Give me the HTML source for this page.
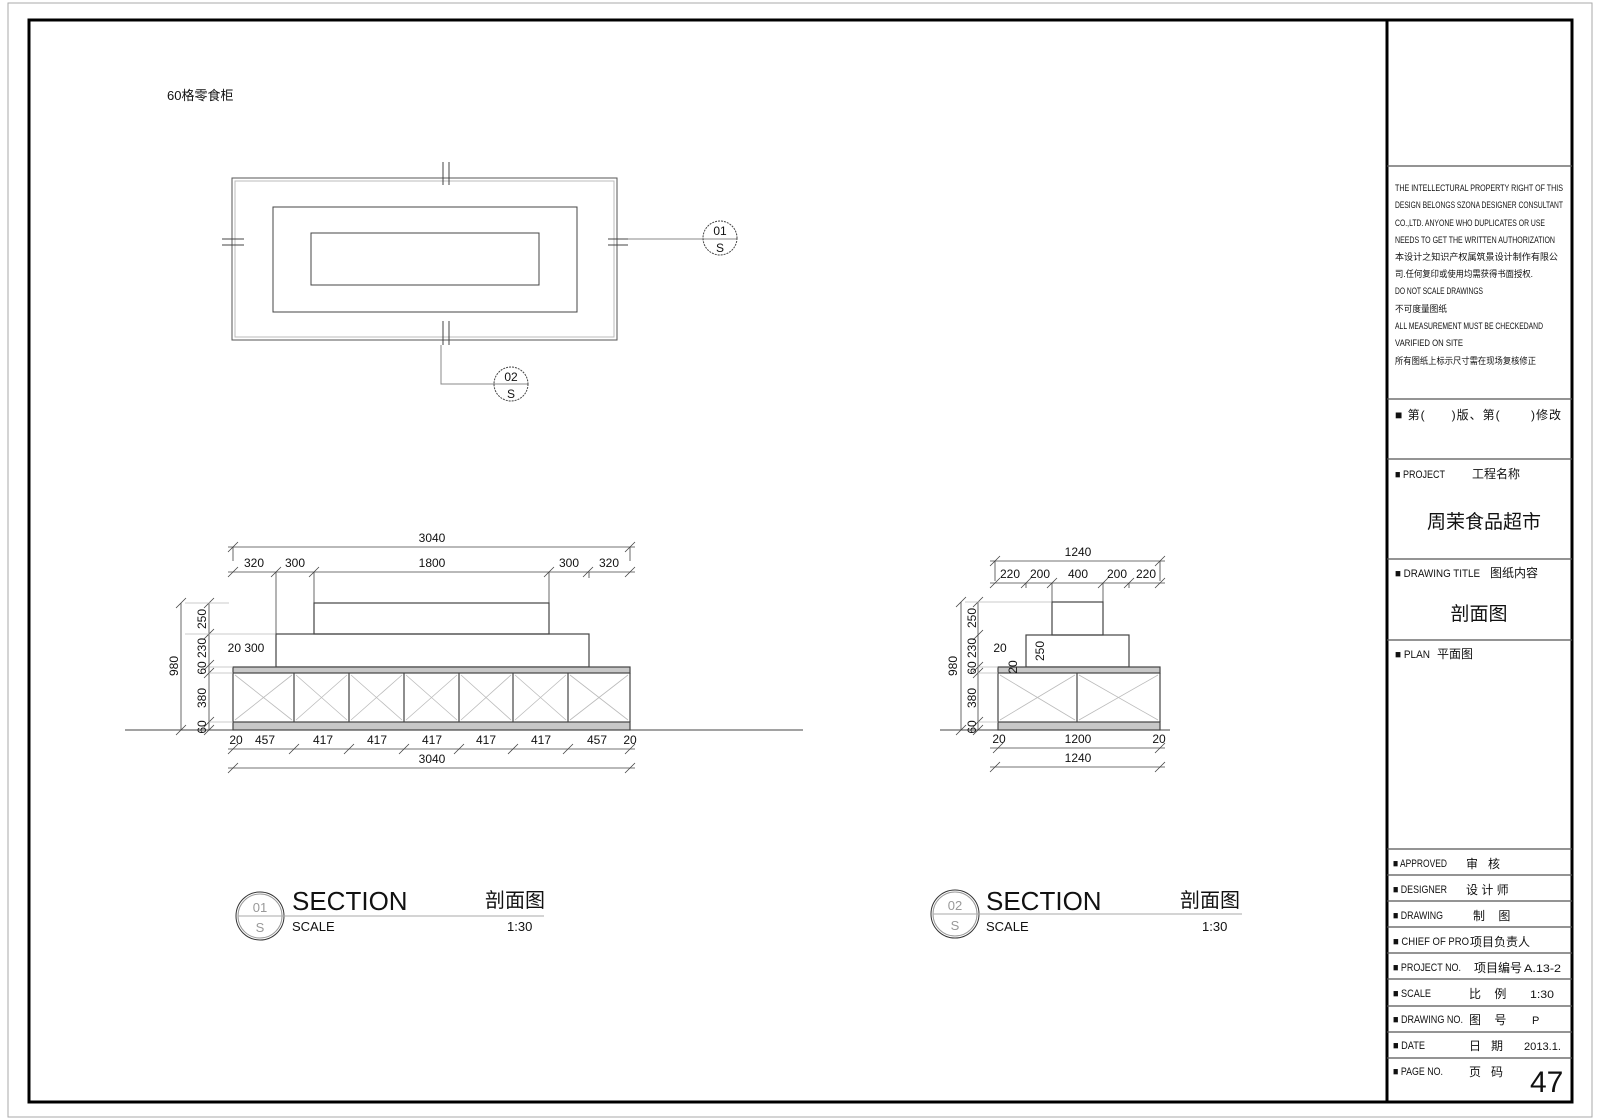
<!DOCTYPE html>
<html><head><meta charset="utf-8"><style>
html,body{margin:0;padding:0;background:#fff;}
svg{display:block;}
text{font-family:"Liberation Sans","Noto Sans CJK SC",sans-serif;fill:#111;}
.m{font-family:"Liberation Sans","Noto Sans CJK SC",sans-serif;}
.d{font-size:12px;}
</style></head><body>
<svg width="1600" height="1120" viewBox="0 0 1600 1120" xmlns="http://www.w3.org/2000/svg">
<rect x="8" y="3" width="1584" height="1114" fill="none" stroke="#aaa" stroke-width="1"/>
<rect x="29" y="20" width="1543" height="1082" fill="none" stroke="#000" stroke-width="3"/>
<line x1="1387" y1="20" x2="1387" y2="1102" stroke="#000" stroke-width="3"/>
<g stroke="#555" stroke-width="1.3">
<line x1="1387" y1="166" x2="1572" y2="166"/>
<line x1="1387" y1="399" x2="1572" y2="399"/>
<line x1="1387" y1="459" x2="1572" y2="459"/>
<line x1="1387" y1="559" x2="1572" y2="559"/>
<line x1="1387" y1="640" x2="1572" y2="640"/>
<line x1="1387" y1="849" x2="1572" y2="849"/>
<line x1="1387" y1="875" x2="1572" y2="875"/>
<line x1="1387" y1="901" x2="1572" y2="901"/>
<line x1="1387" y1="927" x2="1572" y2="927"/>
<line x1="1387" y1="953" x2="1572" y2="953"/>
<line x1="1387" y1="979" x2="1572" y2="979"/>
<line x1="1387" y1="1006" x2="1572" y2="1006"/>
<line x1="1387" y1="1032" x2="1572" y2="1032"/>
<line x1="1387" y1="1058" x2="1572" y2="1058"/>
</g>
<g class="m" font-size="9">
<text x="1395" y="191" textLength="168" lengthAdjust="spacingAndGlyphs">THE INTELLECTURAL PROPERTY RIGHT OF THIS</text>
<text x="1395" y="208" textLength="168" lengthAdjust="spacingAndGlyphs">DESIGN BELONGS SZONA DESIGNER CONSULTANT</text>
<text x="1395" y="226" textLength="150" lengthAdjust="spacingAndGlyphs">CO.,LTD. ANYONE WHO DUPLICATES OR USE</text>
<text x="1395" y="243" textLength="160" lengthAdjust="spacingAndGlyphs">NEEDS TO GET THE WRITTEN AUTHORIZATION</text>
<text x="1395" y="260" textLength="163" lengthAdjust="spacingAndGlyphs">本设计之知识产权属筑景设计制作有限公</text>
<text x="1395" y="277" textLength="138" lengthAdjust="spacingAndGlyphs">司.任何复印或使用均需获得书面授权.</text>
<text x="1395" y="294" textLength="88" lengthAdjust="spacingAndGlyphs">DO NOT SCALE DRAWINGS</text>
<text x="1395" y="312" textLength="52" lengthAdjust="spacingAndGlyphs">不可度量图纸</text>
<text x="1395" y="329" textLength="148" lengthAdjust="spacingAndGlyphs">ALL MEASUREMENT MUST BE CHECKEDAND</text>
<text x="1395" y="346" textLength="68" lengthAdjust="spacingAndGlyphs">VARIFIED ON SITE</text>
<text x="1395" y="364" textLength="141" lengthAdjust="spacingAndGlyphs">所有图纸上标示尺寸需在现场复核修正</text>
</g>
<g font-size="12">
<text x="1395" y="419" textLength="166" lengthAdjust="spacing">■ 第(&#160;&#160;&#160;&#160;&#160;&#160;)版、第(&#160;&#160;&#160;&#160;&#160;&#160;&#160;)修改</text>
<text x="1395" y="478" font-size="11" textLength="50" lengthAdjust="spacingAndGlyphs">■ PROJECT</text>
<text x="1472" y="478">工程名称</text>
<text x="1395" y="577" font-size="11" textLength="85" lengthAdjust="spacingAndGlyphs">■ DRAWING TITLE</text>
<text x="1490" y="577">图纸内容</text>
<text x="1395" y="658" font-size="11" textLength="35" lengthAdjust="spacingAndGlyphs">■ PLAN</text>
<text x="1437" y="658">平面图</text>
</g>
<text x="1484" y="528" font-size="19" text-anchor="middle">周茉食品超市</text>
<text x="1479" y="620" font-size="19" text-anchor="middle">剖面图</text>
<g font-size="11" class="m">
<text x="1393" y="867" textLength="54" lengthAdjust="spacingAndGlyphs">■ APPROVED</text>
<text x="1393" y="893" textLength="54" lengthAdjust="spacingAndGlyphs">■ DESIGNER</text>
<text x="1393" y="919" textLength="50" lengthAdjust="spacingAndGlyphs">■ DRAWING</text>
<text x="1393" y="945" textLength="76" lengthAdjust="spacingAndGlyphs">■ CHIEF OF PRO</text>
<text x="1393" y="971" textLength="68" lengthAdjust="spacingAndGlyphs">■ PROJECT NO.</text>
<text x="1393" y="997" textLength="38" lengthAdjust="spacingAndGlyphs">■ SCALE</text>
<text x="1393" y="1023" textLength="70" lengthAdjust="spacingAndGlyphs">■ DRAWING NO.</text>
<text x="1393" y="1049" textLength="32" lengthAdjust="spacingAndGlyphs">■ DATE</text>
<text x="1393" y="1075" textLength="50" lengthAdjust="spacingAndGlyphs">■ PAGE NO.</text>
</g>
<g font-size="12">
<text x="1466" y="868">审&#160;&#160;&#160;核</text>
<text x="1466" y="894">设 计 师</text>
<text x="1473" y="920">制&#160;&#160;&#160;&#160;图</text>
<text x="1470" y="946">项目负责人</text>
<text x="1474" y="972">项目编号</text>
<text x="1524" y="972" font-size="11" textLength="37" lengthAdjust="spacingAndGlyphs">A.13-2</text>
<text x="1469" y="998">比&#160;&#160;&#160;&#160;例</text>
<text x="1530" y="998" font-size="11" textLength="24" lengthAdjust="spacingAndGlyphs">1:30</text>
<text x="1469" y="1024">图&#160;&#160;&#160;&#160;号</text>
<text x="1532" y="1024" font-size="11">P</text>
<text x="1469" y="1050">日&#160;&#160;&#160;期</text>
<text x="1524" y="1050" font-size="11" textLength="37" lengthAdjust="spacingAndGlyphs">2013.1.</text>
<text x="1469" y="1076">页&#160;&#160;&#160;码</text>
</g>
<text x="1530" y="1092" font-size="30">47</text>

<!-- plan -->
<text x="167" y="100" font-size="13">60格零食柜</text>
<g fill="none" stroke="#444" stroke-width="1">
<rect x="232" y="178" width="385" height="162" stroke="#555"/>
<rect x="235" y="181" width="379" height="156" stroke="#bbb"/>
<rect x="273" y="207" width="304" height="105"/>
<rect x="311" y="233" width="228" height="52"/>
<line x1="443" y1="162" x2="443" y2="185"/><line x1="449" y1="162" x2="449" y2="185"/>
<line x1="443" y1="321" x2="443" y2="345"/><line x1="449" y1="321" x2="449" y2="345"/>
<line x1="222" y1="239" x2="244" y2="239"/><line x1="222" y1="245" x2="244" y2="245"/>
<line x1="608" y1="239" x2="628" y2="239"/><line x1="608" y1="245" x2="628" y2="245"/>
<line x1="628" y1="239" x2="737" y2="239" stroke="#888"/>
<circle cx="720" cy="238" r="17" stroke-dasharray="2 1"/>
<polyline points="441,345 441,384 528,384" stroke="#888"/>
<circle cx="511" cy="384" r="17" stroke-dasharray="2 1"/>
</g>
<g font-family="Liberation Serif,serif" font-size="12" text-anchor="middle">
<text x="720" y="235">01</text><text x="720" y="252">S</text>
<text x="511" y="381">02</text><text x="511" y="398">S</text>
</g>

<line x1="125" y1="730" x2="803" y2="730" stroke="#444"/>
<line x1="940" y1="730" x2="1170" y2="730" stroke="#444"/>

<!-- section 1 -->
<g fill="none" stroke="#444" stroke-width="1.2">
<rect x="314" y="603" width="235" height="31"/>
<rect x="276" y="634" width="313" height="33"/>
<rect x="233" y="667" width="397" height="6" fill="#c8c8c8"/>
<rect x="233" y="722" width="397" height="8" fill="#c8c8c8"/>
<line x1="233" y1="673" x2="233" y2="722"/><line x1="630" y1="673" x2="630" y2="722"/>
<line x1="294" y1="673" x2="294" y2="722"/><line x1="349" y1="673" x2="349" y2="722"/>
<line x1="404" y1="673" x2="404" y2="722"/><line x1="459" y1="673" x2="459" y2="722"/>
<line x1="513" y1="673" x2="513" y2="722"/><line x1="568" y1="673" x2="568" y2="722"/>
</g>
<g stroke="#bbb" stroke-width="0.8">
<path d="M235 675L292 720M292 675L235 720M296 675L347 720M347 675L296 720M351 675L402 720M402 675L351 720M406 675L457 720M457 675L406 720M461 675L511 720M511 675L461 720M515 675L566 720M566 675L515 720M570 675L628 720M628 675L570 720"/>
</g>
<g stroke="#444" stroke-width="0.8">
<line x1="228" y1="547" x2="635" y2="547"/>
<line x1="228" y1="572" x2="635" y2="572"/>
<path d="M228 552l10-10M625 552l10-10M228 577l10-10M271 577l10-10M309 577l10-10M544 577l10-10M583 577l10-10M625 577l10-10"/>
<path d="M233 547v14M630 547v14M276 572v62M314 572v31M549 572v31M589 572v6"/>
<line x1="228" y1="749" x2="635" y2="749"/>
<line x1="228" y1="768" x2="635" y2="768"/>
<path d="M228 754l10-10M289 754l10-10M344 754l10-10M399 754l10-10M454 754l10-10M508 754l10-10M563 754l10-10M625 754l10-10M228 773l10-10M625 773l10-10"/>
<line x1="181" y1="603" x2="181" y2="730"/>
<line x1="209" y1="603" x2="209" y2="730"/>
<path d="M176 608l10-10M176 735l10-10M204 608l10-10M204 639l10-10M204 670l10-10M204 678l10-10M204 727l10-10M204 735l10-10"/>
<path d="M185 603h44M185 634h90M209 667h24M209 673h24M209 722h24" stroke="#bbb"/>
</g>
<g class="d" text-anchor="middle">
<text x="432" y="542">3040</text>
<text x="254" y="567">320</text><text x="295" y="567">300</text><text x="432" y="567">1800</text><text x="569" y="567">300</text><text x="609" y="567">320</text>
<text x="236" y="744">20</text><text x="265" y="744">457</text><text x="323" y="744">417</text><text x="377" y="744">417</text><text x="432" y="744">417</text><text x="486" y="744">417</text><text x="541" y="744">417</text><text x="597" y="744">457</text><text x="630" y="744">20</text>
<text x="432" y="763">3040</text>
<text x="246" y="652">20 300</text>
</g>
<g class="d" text-anchor="middle">
<text transform="translate(178,666) rotate(-90)">980</text>
<text transform="translate(206,619) rotate(-90)">250</text>
<text transform="translate(206,648) rotate(-90)">230</text>
<text transform="translate(206,668) rotate(-90)">60</text>
<text transform="translate(206,698) rotate(-90)">380</text>
<text transform="translate(206,727) rotate(-90)">60</text>
</g>

<!-- section 2 -->
<g fill="none" stroke="#444" stroke-width="1.2">
<rect x="1052" y="602" width="51" height="33"/>
<rect x="1026" y="635" width="103" height="32"/>
<rect x="998" y="667" width="162" height="6" fill="#c8c8c8"/>
<rect x="998" y="722" width="162" height="8" fill="#c8c8c8"/>
<line x1="998" y1="673" x2="998" y2="722"/><line x1="1160" y1="673" x2="1160" y2="722"/>
<line x1="1077" y1="673" x2="1077" y2="722"/>
</g>
<path d="M1000 675L1075 720M1075 675L1000 720M1079 675L1158 720M1158 675L1079 720" stroke="#bbb" stroke-width="0.8"/>
<g stroke="#444" stroke-width="0.8">
<line x1="990" y1="561" x2="1165" y2="561"/>
<line x1="990" y1="583" x2="1165" y2="583"/>
<path d="M990 566l10-10M1155 566l10-10M990 588l10-10M1021 588l10-10M1047 588l10-10M1098 588l10-10M1124 588l10-10M1155 588l10-10"/>
<path d="M995 561v20M1160 561v20M1052 583v19M1103 583v19M1026 583v5M1129 583v5"/>
<line x1="990" y1="748" x2="1165" y2="748"/>
<line x1="990" y1="767" x2="1165" y2="767"/>
<path d="M993 753l10-10M1155 753l10-10M990 772l10-10M1155 772l10-10"/>
<line x1="961" y1="602" x2="961" y2="730"/>
<line x1="978" y1="602" x2="978" y2="730"/>
<path d="M956 607l10-10M956 735l10-10M973 607l10-10M973 640l10-10M973 672l10-10M973 678l10-10M973 727l10-10M973 735l10-10"/>
<path d="M965 602h86M978 667h20M978 673h20M978 722h20" stroke="#bbb"/>
</g>
<g class="d" text-anchor="middle">
<text x="1078" y="556">1240</text>
<text x="1010" y="578">220</text><text x="1040" y="578">200</text><text x="1078" y="578">400</text><text x="1117" y="578">200</text><text x="1146" y="578">220</text>
<text x="999" y="743">20</text><text x="1078" y="743">1200</text><text x="1159" y="743">20</text>
<text x="1078" y="762">1240</text>
<text x="1000" y="652">20</text>
<text transform="translate(957,666) rotate(-90)">980</text>
<text transform="translate(976,618) rotate(-90)">250</text>
<text transform="translate(976,648) rotate(-90)">230</text>
<text transform="translate(976,668) rotate(-90)">60</text>
<text transform="translate(976,698) rotate(-90)">380</text>
<text transform="translate(976,727) rotate(-90)">60</text>
<text transform="translate(1044,651) rotate(-90)">250</text>
<text transform="translate(1017,667) rotate(-90)">20</text>
</g>

<!-- section labels -->
<g fill="none" stroke="#333">
<circle cx="260" cy="916" r="24"/><circle cx="260" cy="916" r="22" stroke="#999"/>
<line x1="238" y1="916" x2="544" y2="916" stroke="#aaa"/>
<circle cx="955" cy="914" r="24"/><circle cx="955" cy="914" r="22" stroke="#999"/>
<line x1="933" y1="914" x2="1242" y2="914" stroke="#aaa"/>
</g>
<g text-anchor="middle" font-size="13">
<text x="260" y="912" style="fill:#999">01</text><text x="260" y="932" style="fill:#999">S</text>
<text x="955" y="910" style="fill:#999">02</text><text x="955" y="930" style="fill:#999">S</text>
</g>
<text x="292" y="910" font-size="26">SECTION</text>
<text x="292" y="931" font-size="13">SCALE</text>
<text x="485" y="907" font-size="20">剖面图</text>
<text x="507" y="931" font-size="13">1:30</text>
<text x="986" y="910" font-size="26">SECTION</text>
<text x="986" y="931" font-size="13">SCALE</text>
<text x="1180" y="907" font-size="20">剖面图</text>
<text x="1202" y="931" font-size="13">1:30</text>
</svg>
</body></html>
